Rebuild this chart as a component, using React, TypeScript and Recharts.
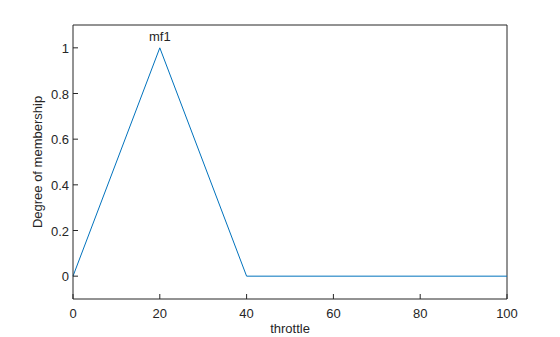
import React from 'react';
import { LineChart, Line, XAxis, YAxis, ReferenceDot, ReferenceLine, Label } from 'recharts';

const throttle = [0, 20, 40, 100];
const membership = [0, 1, 0, 0];
const xTicks = [0, 20, 40, 60, 80, 100];
const yTicks = [0, 0.2, 0.4, 0.6, 0.8, 1];
const mfName = 'mf1';
const mfPeak = { x: 20, y: 1 };

const data = throttle.map((t, i) => ({ x: t, y: membership[i] }));

const FONT = 'Arial, "Liberation Sans", Helvetica, sans-serif';
const INK = '#262626';

const BottomTick = (props: any) => {
  const { x, y, payload } = props;
  return (
    <g>
      <line x1={x} y1={y} x2={x} y2={y - 5} stroke={INK} strokeWidth={1} />
      <text x={x} y={y + 19} textAnchor="middle" fontSize={13} fill={INK} fontFamily={FONT}>
        {payload.value}
      </text>
    </g>
  );
};

const LeftTick = (props: any) => {
  const { x, y, payload } = props;
  return (
    <g>
      <line x1={x} y1={y} x2={x + 5} y2={y} stroke={INK} strokeWidth={1} />
      <text x={x - 4} y={y + 5} textAnchor="end" fontSize={13} fill={INK} fontFamily={FONT}>
        {payload.value}
      </text>
    </g>
  );
};

export default function App() {
  return (
    <div style={{ position: 'absolute', left: 0, top: 0, width: 560, height: 337, background: '#fff' }}>
      <LineChart width={560} height={337} data={data} margin={{ top: 25, right: 53, bottom: 0, left: 0 }}>
        <XAxis
          dataKey="x"
          type="number"
          domain={[0, 100]}
          ticks={xTicks}
          height={38}
          tickSize={0}
          tickMargin={0}
          tickLine={false}
          axisLine={{ stroke: INK }}
          tick={<BottomTick />}
          interval={0}
        >
          <Label
            value="throttle"
            position="insideBottom"
            offset={4}
            style={{ fontSize: 13, fill: INK, fontFamily: FONT }}
          />
        </XAxis>
        <YAxis
          type="number"
          domain={[-0.1, 1.1]}
          ticks={yTicks}
          width={73}
          tickSize={0}
          tickMargin={0}
          tickLine={false}
          axisLine={{ stroke: INK }}
          tick={<LeftTick />}
          interval={0}
        >
          <Label
            value="Degree of membership"
            angle={-90}
            position="insideLeft"
            offset={37}
            style={{ fontSize: 13, fill: INK, fontFamily: FONT, textAnchor: 'middle' }}
          />
        </YAxis>
        <ReferenceLine y={1.1} stroke={INK} strokeWidth={1} />
        <ReferenceLine x={100} stroke={INK} strokeWidth={1} />
        <Line
          dataKey="y"
          type="linear"
          stroke="#0072BD"
          strokeWidth={1}
          dot={false}
          isAnimationActive={false}
        />
        <ReferenceDot x={mfPeak.x} y={mfPeak.y} r={0} stroke="none" fill="none">
          <Label
            value={mfName}
            position="top"
            offset={7}
            style={{ fontSize: 13, fill: INK, fontFamily: FONT }}
          />
        </ReferenceDot>
      </LineChart>
    </div>
  );
}
